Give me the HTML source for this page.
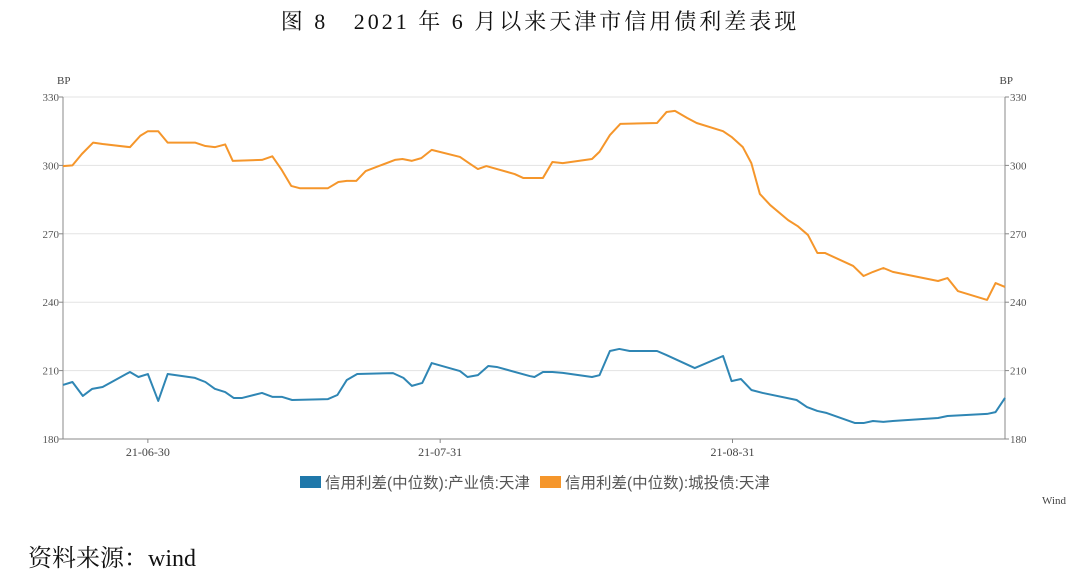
<!DOCTYPE html>
<html><head><meta charset="utf-8"><style>
body{margin:0;background:#fff;width:1080px;height:579px;overflow:hidden;font-family:"Liberation Serif","Noto Serif CJK SC",serif}
.title{position:absolute;top:5px;left:0;width:1080px;text-align:center;font-size:22px;color:#111;letter-spacing:3px}
.src{position:absolute;left:28px;top:538px;font-size:24px;color:#111}
</style></head><body>
<div class="title">图 8&nbsp;&nbsp;&nbsp;2021 年 6 月以来天津市信用债利差表现</div>
<svg id="chart" width="1080" height="579" style="position:absolute;left:0;top:0"></svg>
<div class="src">资料来源：wind</div>
<script>
const yTicks=[180,210,240,270,300,330];
const xTickLabels=["21-06-30","21-07-31","21-08-31"];
const xTickDays=[9,40,71];
const blueDays=[0,1,2.1,3.1,4.2,7.1,8,9,10.1,11.1,14,15.1,16.1,17.2,18.1,19,21.1,22.2,23.2,24.3,28.1,29.1,30.1,31.2,35,36.1,37,38.1,39.1,42.1,42.9,44,45.1,46,49.5,50,50.9,51.9,53,56.1,56.9,58,59,60.1,63,64,67,70,70.9,71.9,73,74.2,77.8,78.9,80,81,84,84.9,85.9,87,88,92.8,93.8,98,98.9,99.9];
const blueVals=[203.7,205,198.9,202,202.8,209.4,207.2,208.5,196.7,208.5,206.8,205,202,200.6,198,198,200.2,198.5,198.5,197.1,197.5,199.3,205.9,208.5,208.9,206.8,203.3,204.6,213.3,209.8,207.2,208,212,211.6,207.6,207.2,209.4,209.4,209,207.2,208,218.6,219.5,218.6,218.6,216.8,211.1,216.4,205.4,206.3,201.5,200.2,197.1,194,192.3,191.4,187,187,187.9,187.5,187.9,189.2,190.1,191,191.8,198];
const orangeDays=[0,1,2,3.2,4.2,7.1,8.2,9,10.1,11.1,14,15.1,16.1,17.2,18,21.1,22.2,23.2,24.2,25.1,28.1,29.2,30.1,31.1,32.1,35.2,36,37,38,39.1,42.1,43.2,44,44.9,47.9,48.8,49.5,50.9,51.9,53,56.1,56.9,58,59.1,63,64,64.9,66.2,67.2,70,70.9,72.1,73,73.9,75,76.9,77.9,79,80,80.8,83.8,84.9,85.9,87,88,92.8,93.8,94.9,98,98.9,99.9];
const orangeVals=[299.7,300,305,310,309.4,308,313,315,315,310,310,308.5,308,309.2,302,302.4,304,298,291,290,290,292.7,293.2,293.2,297.5,302.4,302.8,302,303.2,306.8,303.7,300.6,298.4,299.7,296.2,294.5,294.5,294.5,301.5,301,302.8,306,313.3,318.2,318.6,323.4,323.9,320.8,318.6,315,312.5,308,301,287.5,282.6,276,273.4,269.5,261.6,261.6,255.9,251.5,253.3,255,253.3,249.3,250.6,244.9,241,248.4,246.7];
const X0=63,X1=1005,D0=0,D1=99.9,Y0=439,Y1=97,V0=180,V1=330;
const sx=d=>X0+(d-D0)/(D1-D0)*(X1-X0);
const sy=v=>Y0-(v-V0)/(V1-V0)*(Y0-Y1);
const svg=document.getElementById('chart');
const NS='http://www.w3.org/2000/svg';
function mk(t,a,p){const e=document.createElementNS(NS,t);for(const k in a)e.setAttribute(k,a[k]);(p||svg).appendChild(e);return e;}
yTicks.forEach(v=>{
  const y=sy(v);
  const g=mk('line',{x1:X0,x2:X1,y1:y,y2:y,stroke:'#e3e3e3','stroke-width':1});
  
  
  const l=mk('text',{x:X0-4,y:y+4,'text-anchor':'end','font-size':11,fill:'#555','font-family':'Liberation Serif'});
  l.textContent=v;
  
  
  const r=mk('text',{x:X1+5,y:y+4,'font-size':11,fill:'#555','font-family':'Liberation Serif'});
  r.textContent=v;
  
  
  mk('line',{x1:X0-4,x2:X0,y1:y,y2:y,stroke:'#888'});
  mk('line',{x1:X1,x2:X1+4,y1:y,y2:y,stroke:'#888'});
});
const la=mk('line',{x1:X0,x2:X0,y1:Y1,y2:Y0,stroke:'#888'});


const ra=mk('line',{x1:X1,x2:X1,y1:Y1,y2:Y0,stroke:'#888'});


const xa=mk('line',{x1:X0,x2:X1,y1:Y0,y2:Y0,stroke:'#888'});


xTickDays.forEach((d,i)=>{
  const x=sx(d);
  mk('line',{x1:x,x2:x,y1:Y0,y2:Y0+4,stroke:'#888'});
  const t=mk('text',{x:x,y:Y0+17,'text-anchor':'middle','font-size':12,fill:'#444','font-family':'Liberation Serif'});
  t.textContent=xTickLabels[i];
  
  
});
[[57,'start'],[1013,'end']].forEach(([x,a])=>{
  const t=mk('text',{x:x,y:84,'text-anchor':a,'font-size':11,fill:'#444','font-family':'Liberation Serif'});
  t.textContent='BP';
  
  
});
function line(days,vals,col,name){
  const p=mk('polyline',{points:days.map((d,i)=>sx(d)+','+sy(vals[i])).join(' '),fill:'none',stroke:col,'stroke-width':2,'stroke-linejoin':'round'});
  
  
}
line(blueDays,blueVals,'#2f86b4','series-industrial-bond');
line(orangeDays,orangeVals,'#f5962b','series-urban-investment-bond');
[[300,'#1f78aa','信用利差(中位数):产业债:天津'],[540,'#f5962b','信用利差(中位数):城投债:天津']].forEach(([x,c,s])=>{
  const r=mk('rect',{x:x,y:476,width:21,height:12,fill:c});
  
  
  const t=mk('text',{x:x+25,y:488,'font-size':15.5,fill:'#555','font-family':'Liberation Sans, Noto Sans CJK SC, sans-serif'});
  t.textContent=s;
  
  
});
const w=mk('text',{x:1066,y:504,'text-anchor':'end','font-size':11,fill:'#444','font-family':'Liberation Serif'});
w.textContent='Wind';


</script>
</body></html>
